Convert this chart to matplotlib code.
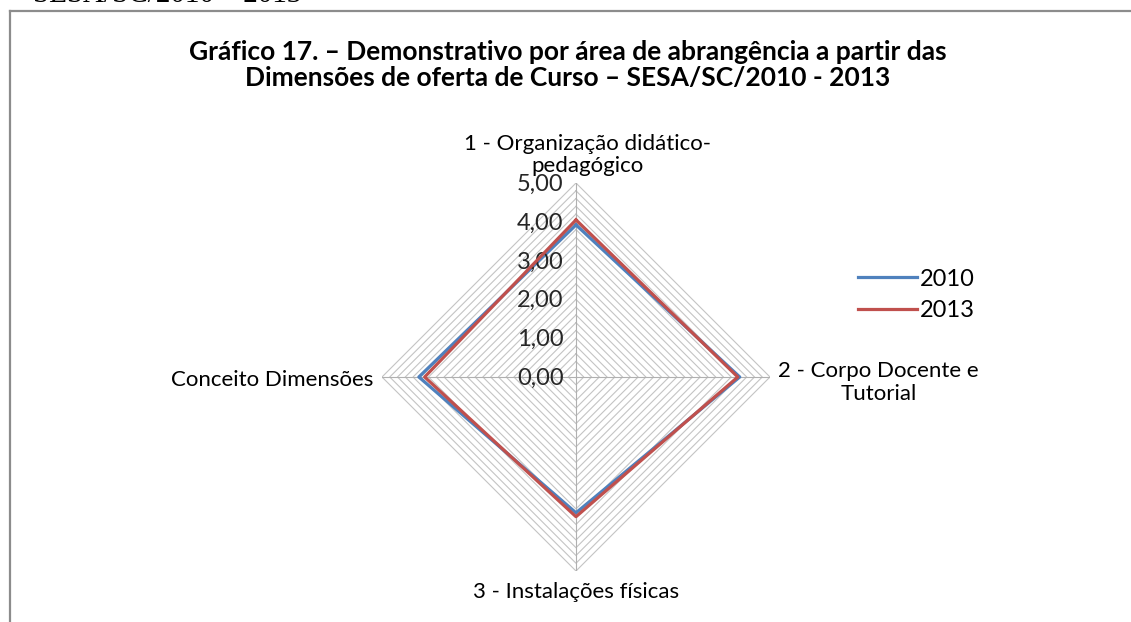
import numpy as np
import matplotlib.pyplot as plt
from matplotlib.lines import Line2D

categories = ["1 - Organização didático-\npedagógico",
              "2 - Corpo Docente e\nTutorial",
              "3 - Instalações físicas",
              "Conceito Dimensões"]
serie_2010 = [3.92, 4.22, 3.50, 4.05]
serie_2013 = [4.05, 4.17, 3.60, 3.90]
anos = ["2010", "2013"]
ticks = [0, 1, 2, 3, 4, 5]
tick_labels = ["0,00", "1,00", "2,00", "3,00", "4,00", "5,00"]

plt.rcParams['font.family'] = ['Lato', 'DejaVu Sans']

W, H = 1131, 622
fig = plt.figure(figsize=(W / 100, H / 100), dpi=100)

# moldura do gráfico
fig.add_artist(Line2D([10 / W, 10 / W], [0, 1 - 11 / H], color='#8c8c8c', lw=1.6))
fig.add_artist(Line2D([10 / W, 1], [1 - 11 / H, 1 - 11 / H], color='#8c8c8c', lw=1.6))
# legenda da figura anterior, cortada no topo
fig.text(33 / W, 1 - 1.5 / H, "SESA/SC/2010 – 2013", family='Liberation Serif',
         fontsize=21, va='baseline')

cx, cy, R = 576, 377, 194
ax = fig.add_axes([(cx - R) / W, (H - cy - R) / H, 2 * R / W, 2 * R / H],
                  projection='polar')
ax.set_theta_offset(np.pi / 2)
ax.set_theta_direction(-1)
ax.set_ylim(0, 5)
ax.grid(False)
ax.set_xticks([])
ax.set_yticks([])
ax.spines['polar'].set_visible(False)
ax.patch.set_visible(False)

ang = np.arange(len(categories)) * 2 * np.pi / len(categories)
ang_c = np.append(ang, ang[0])

# anéis da grade (a cada 0,2)
for r in np.arange(0.2, 5.01, 0.2):
    ax.plot(ang_c, [r] * 5, color='#c4c4c4', lw=0.8, zorder=1)
for a in ang:
    ax.plot([a, a], [0, 5], color='#b0b0b0', lw=0.8, zorder=1)

ax.plot(ang_c, serie_2010 + serie_2010[:1], color='#4f81bd', lw=2.3, zorder=3, label=anos[0])
ax.plot(ang_c, serie_2013 + serie_2013[:1], color='#c0504d', lw=2.3, zorder=4, label=anos[1])

for t, lab in zip(ticks, tick_labels):
    ax.annotate(lab, xy=(0, t), xytext=(-9, -1), textcoords='offset points',
                ha='right', va='center', fontsize=17, color='#262626')

ax.annotate(categories[0], xy=(0, 5), xytext=(8, 5), textcoords='offset points',
            ha='center', va='bottom', fontsize=16, linespacing=1.15)
ax.annotate(categories[1], xy=(ang[1], 5), xytext=(6, -4), textcoords='offset points',
            ha='left', va='center', fontsize=16, multialignment='center',
            linespacing=1.15)
ax.annotate(categories[2], xy=(ang[2], 5), xytext=(0, -8), textcoords='offset points',
            ha='center', va='top', fontsize=16)
ax.annotate(categories[3], xy=(ang[3], 5), xytext=(-6, -2), textcoords='offset points',
            ha='right', va='center', fontsize=16)

fig.legend(loc='center left', bbox_to_anchor=(837 / W, 1 - 295 / H), frameon=False,
           fontsize=17, handlelength=2.5, handletextpad=0.1, labelspacing=0.45)

fig.text(568 / W, 1 - 65 / H,
         "Gráfico 17. – Demonstrativo por área de abrangência a partir das\n"
         "Dimensões de oferta de Curso – SESA/SC/2010 - 2013",
         ha='center', va='center', fontsize=19, fontweight='bold', linespacing=1.1)

fig.savefig("out.png", dpi=100)
